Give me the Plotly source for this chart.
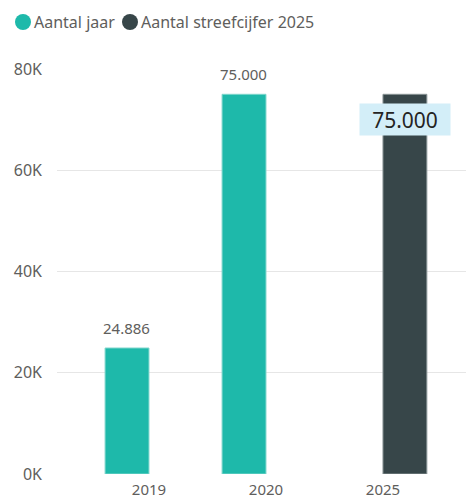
import plotly.graph_objects as go

categories = ["2019", "2020", "2025"]
aantal_jaar = [24886, 75000, None]
streefcijfer = [None, None, 75000]
labels_jaar = ["24.886", "75.000", ""]
label_streef = "75.000"
legend_names = ["Aantal jaar", "Aantal streefcijfer 2025"]
y_tickvals = [0, 20000, 40000, 60000, 80000]
y_ticktext = ["0K", "20K", "40K", "60K", "80K"]

TEAL = "#1EB9AA"
DARK = "#374649"
GREY = "#605E5C"
FONT = "Noto Sans"

# the page body has an 8px default margin; work in figure pixels
OFF = 8
FIG_W, FIG_H = 474 - OFF, 499 - OFF
L, R, T, B = 57 - OFF, 474 - OFF, 69 - OFF, 474 - OFF
W, H = R - L, B - T


def px_x(px):
    return (px - OFF - L) / W


def px_y(py):
    return (B - (py - OFF)) / H


fig = go.Figure()
fig.add_trace(go.Bar(
    x=categories, y=aantal_jaar, name=legend_names[0],
    marker=dict(color=TEAL, line=dict(color="#7fd6cc", width=1)),
))
fig.add_trace(go.Bar(
    x=categories, y=streefcijfer, name=legend_names[1],
    marker=dict(color=DARK, line=dict(color="#8a9597", width=1)),
))

# data labels above the "Aantal jaar" bars
for i, (v, lab) in enumerate(zip(aantal_jaar, labels_jaar)):
    if v is None:
        continue
    fig.add_annotation(x=i, y=v, xref="x", yref="y", text=lab, showarrow=False,
                       xshift=-22, yshift=8, yanchor="bottom",
                       font=dict(family=FONT, size=15, color=GREY))

# data label of the target bar, in a light-blue box
fig.add_annotation(
    x=2, y=streefcijfer[2], xref="x", yref="y",
    text=label_streef, showarrow=False, xshift=22, yshift=-9,
    yanchor="top", bgcolor="#D3EEF8", borderpad=3, width=84, height=25,
    font=dict(family=FONT, size=21, color="#252423"),
)

# legend drawn with circles + text
legend_circle_px = [23, 130]
legend_text_px = [32, 139]
for name, color, cx, tx in zip(legend_names, [TEAL, DARK], legend_circle_px, legend_text_px):
    fig.add_shape(type="circle", xref="paper", yref="paper",
                  xsizemode="pixel", ysizemode="pixel",
                  xanchor=px_x(cx), yanchor=px_y(22),
                  x0=-8, x1=8, y0=-8, y1=8,
                  fillcolor=color, line=dict(width=0))
    fig.add_annotation(x=px_x(tx), y=px_y(22), xref="paper", yref="paper",
                       xanchor="left", yanchor="middle", showarrow=False,
                       text=name, font=dict(family=FONT, size=16, color=GREY))

fig.update_layout(
    width=FIG_W, height=FIG_H,
    margin=dict(l=L, r=FIG_W - R, t=T, b=FIG_H - B, autoexpand=False),
    paper_bgcolor="white", plot_bgcolor="white",
    barmode="group", bargap=0.25, bargroupgap=0,
    showlegend=False,
    font=dict(family=FONT, size=15, color=GREY),
    xaxis=dict(type="category", range=[-0.786, 2.778], showgrid=False,
               showline=False, ticks="", automargin=False,
               ticklabelstandoff=5,
               tickfont=dict(size=15, color=GREY)),
    yaxis=dict(range=[0, 80000], tickvals=y_tickvals, ticktext=y_ticktext,
               showgrid=True, gridcolor="#E6E6E6", gridwidth=1,
               zeroline=False, showline=False, ticks="", automargin=False,
               ticklabelstandoff=14,
               tickfont=dict(size=16, color=GREY)),
)

fig.write_html("out.html")
